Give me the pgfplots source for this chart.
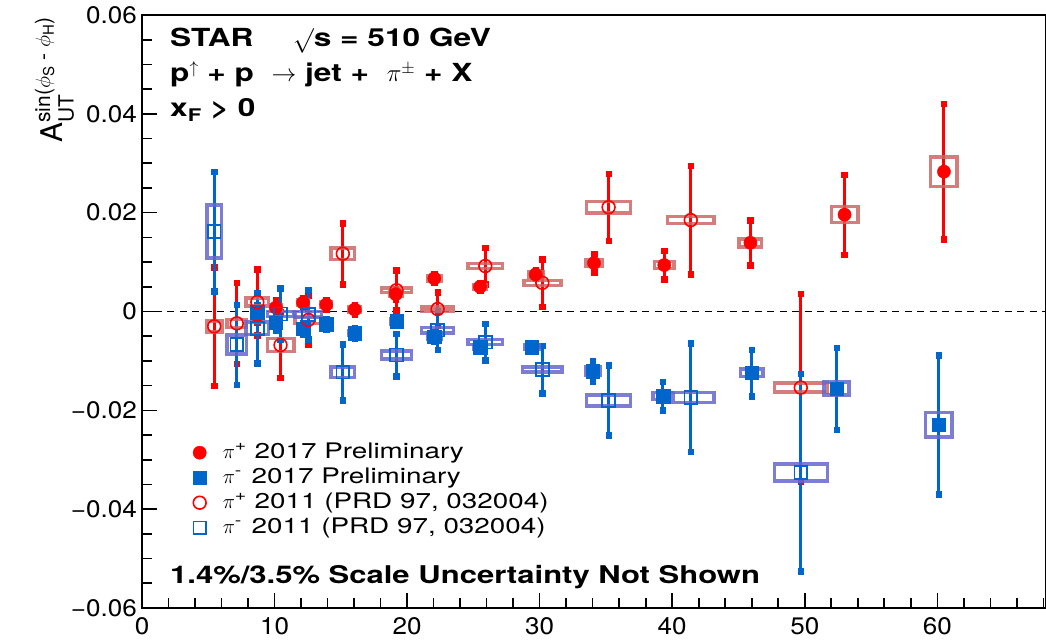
\documentclass[border=0pt]{standalone}
\usepackage{fontspec}
\usepackage{amsmath}
\setmainfont{TeX Gyre Heros}
\newfontfamily\tickfont{TeX Gyre Heros}[FakeStretch=1.09]
\newfontfamily\legfont{TeX Gyre Heros}[FakeStretch=1.3]
\newfontfamily\boldwide{TeX Gyre Heros}[FakeStretch=1.27]
\usepackage{pgfplots}
\pgfplotsset{compat=1.18}
\usepackage{pgfplotstable}

\definecolor{pired}{RGB}{255,0,0}
\definecolor{piblue}{RGB}{0,102,204}
\definecolor{boxred}{RGB}{204,102,102}
\definecolor{boxblue}{RGB}{102,102,204}

% 2017 pi+ : x y stat-error box-halfwidth box-halfheight
\pgfplotstableread{
x y e dx dy
8.7 -0.0008 0.0015 0.4 0.0005
10.1 0.0008 0.0015 0.4 0.0005
12.15 0.0018 0.0010 0.4 0.0005
13.9 0.0014 0.0010 0.4 0.0005
16.05 0.0004 0.0010 0.45 0.0005
19.15 0.0035 0.0010 0.45 0.0005
22.05 0.0067 0.0008 0.5 0.0005
25.5 0.0050 0.0008 0.5 0.0005
29.7 0.0075 0.0009 0.55 0.0005
34.1 0.0098 0.0019 0.6 0.0007
39.4 0.0094 0.0029 0.75 0.0007
45.9 0.0139 0.0046 0.85 0.0008
53.0 0.0196 0.0081 1.0 0.0016
60.5 0.0283 0.0137 1.0 0.0030
}\pplusnew
% 2017 pi-
\pgfplotstableread{
x y e dx dy
8.7 -0.0002 0.0015 0.4 0.0005
10.1 -0.0023 0.0015 0.4 0.0005
12.15 -0.0035 0.0012 0.4 0.0005
13.9 -0.0026 0.0010 0.4 0.0005
16.05 -0.0044 0.0010 0.45 0.0005
19.2 -0.0020 0.0008 0.45 0.0005
22.05 -0.0051 0.0010 0.5 0.0005
25.5 -0.0072 0.0009 0.5 0.0005
29.4 -0.0072 0.0008 0.55 0.0005
34.0 -0.0121 0.0020 0.55 0.0009
39.3 -0.0171 0.0029 0.75 0.0007
46.0 -0.0124 0.0047 0.85 0.0008
52.4 -0.0156 0.0083 0.95 0.0013
60.1 -0.0229 0.0141 1.0 0.0025
}\pminusnew
% 2011 pi+
\pgfplotstableread{
x y e dx dy
5.45 -0.0030 0.0120 0.6 0.0011
7.15 -0.0024 0.0082 0.75 0.0008
8.7 0.0019 0.0067 0.85 0.0008
10.45 -0.0068 0.0066 1.0 0.0013
12.55 -0.0017 0.0050 1.0 0.0007
15.15 0.0117 0.0062 0.9 0.0012
19.2 0.0043 0.0040 1.15 0.0005
22.3 0.0005 0.0034 1.2 0.0004
25.9 0.0092 0.0037 1.3 0.0005
30.2 0.0058 0.0048 1.4 0.0005
35.2 0.0211 0.0068 1.65 0.0012
41.4 0.0185 0.0110 1.75 0.0007
49.7 -0.0154 0.0190 2.0 0.0009
}\pplusold
% 2011 pi-
\pgfplotstableread{
x y e dx dy
5.45 0.0162 0.0121 0.53 0.0054
7.15 -0.0067 0.0081 0.75 0.0019
8.7 -0.0034 0.0071 0.85 0.0013
10.45 -0.0005 0.0052 1.0 0.0005
12.55 -0.0006 0.0050 1.0 0.0006
15.15 -0.0123 0.0057 0.9 0.0011
19.2 -0.0088 0.0043 1.15 0.0008
22.3 -0.0038 0.0039 1.2 0.0006
25.9 -0.0062 0.0037 1.3 0.0005
30.2 -0.0117 0.0048 1.5 0.0005
35.2 -0.0180 0.0071 1.65 0.0011
41.4 -0.0174 0.0110 1.75 0.0010
49.7 -0.0326 0.0200 2.0 0.0017
}\pminusold

\pgfdeclareplotmark{sysbox}{%
  \pgfpathmoveto{\pgfpoint{-\bx bp}{-\by bp}}%
  \pgfpathlineto{\pgfpoint{\bx bp}{-\by bp}}%
  \pgfpathlineto{\pgfpoint{\bx bp}{\by bp}}%
  \pgfpathlineto{\pgfpoint{-\bx bp}{\by bp}}%
  \pgfpathclose
  \pgfusepathqstroke}

\pgfplotsset{
  boxplot/.style={only marks, mark=sysbox, forget plot,
    mark options={draw=#1, line width=3.5bp, draw opacity=0.85},
    visualization depends on={13.255*\thisrow{dx} \as \bx},
    visualization depends on={4941.7*\thisrow{dy} \as \by}},
  errstyle/.style={error bars/.cd, y dir=both, y explicit,
    error bar style={line width=3bp},
    error mark=square*,
    error mark options={line width=0.5bp, mark size=2.8bp}},
}

\begin{document}
\begin{tikzpicture}
\begin{axis}[
  width=904bp, height=593bp, scale only axis,
  xmin=0, xmax=68.2, ymin=-0.06, ymax=0.06,
  axis line style={line width=2bp},
  xtick={0,10,20,30,40,50,60},
  xticklabels={0,10,20,30,40,50,60},
  minor xtick={2,4,6,8,12,14,16,18,22,24,26,28,32,34,36,38,42,44,46,48,52,54,56,58,62,64,66,68},
  ytick={-0.06,-0.04,-0.02,0,0.02,0.04,0.06},
  yticklabels={−0.06,−0.04,−0.02,0,0.02,0.04,0.06},
  minor ytick={-0.055,-0.05,-0.045,-0.035,-0.03,-0.025,-0.015,-0.01,-0.005,0.005,0.01,0.015,0.025,0.03,0.035,0.045,0.05,0.055},
  tick pos=left, tick align=inside,
  major tick length=15bp, minor tick length=10bp,
  every tick/.style={black, line width=1.6bp},
  ticklabel style={font=\tickfont\fontsize{24}{24}\selectfont},
  xticklabel style={inner sep=0pt, yshift=-9bp},
  yticklabel style={inner sep=0pt, xshift=-5bp},
  ylabel={A$_{\text{UT}}^{\text{sin(}\phi_{\text{S}}\text{ - }\phi_{\text{H}}\text{)}}$},
  every axis y label/.style={at={(rel axis cs:0,1)}, xshift=-79bp, yshift=-2bp, rotate=90, anchor=base east, inner sep=0pt, font=\fontsize{30}{30}\selectfont},
  legend style={at={(axis cs:3.6,-0.0256)}, anchor=north west, draw=none, fill=none,
    font=\legfont\fontsize{21.5}{25}\selectfont,
    nodes={text height=16bp, text depth=4.5bp, inner sep=2.25bp}, row sep=0pt, column sep=14bp},
  legend cell align=left,
]
% zero line
\addplot[black, dashed, line width=1.5bp, dash pattern=on 7bp off 5.5bp, forget plot] coordinates {(0,0) (68.2,0)};

% systematic boxes
\addplot[boxplot=boxred] table {\pplusold};
\addplot[boxplot=boxblue] table {\pminusold};
\addplot[boxplot=boxred] table {\pplusnew};
\addplot[boxplot=boxblue] table {\pminusnew};

% points
\addplot[only marks, mark=*, color=pired, mark size=6.6bp, errstyle] table[x=x, y=y, y error=e] {\pplusnew};
\addlegendentry{$\pi$\textsuperscript{+} 2017 Preliminary}
\addplot[only marks, mark=square*, color=piblue, mark size=6.8bp, errstyle] table[x=x, y=y, y error=e] {\pminusnew};
\addlegendentry{$\pi$\textsuperscript{-}\hspace{0.45em}2017 Preliminary}
\addplot[only marks, mark=o, color=pired, mark size=6.4bp, mark options={fill=white, line width=1.6bp}, errstyle] table[x=x, y=y, y error=e] {\pplusold};
\addlegendentry{$\pi$\textsuperscript{+} 2011 (PRD 97, 032004)}
\addplot[only marks, mark=square, color=piblue, mark size=6.4bp, mark options={fill=white, line width=1.6bp}, errstyle] table[x=x, y=y, y error=e] {\pminusold};
\addlegendentry{$\pi$\textsuperscript{-}\hspace{0.45em}2011 (PRD 97, 032004)}

% texts
\node[anchor=base west, inner sep=0pt, font=\boldwide\bfseries\fontsize{25}{25}\selectfont] at ([xshift=28bp,yshift=-32bp]rel axis cs:0,1) {STAR};
\node[anchor=base west, inner sep=0pt, font=\boldwide\bfseries\fontsize{25}{25}\selectfont] at ([xshift=151bp,yshift=-32bp]rel axis cs:0,1) {$\surd$s = 510 GeV};
\node[anchor=base west, inner sep=0pt, font=\boldwide\bfseries\fontsize{25}{25}\selectfont] at ([xshift=28bp,yshift=-67bp]rel axis cs:0,1) {p$^{\uparrow}$ + p \ $\rightarrow$ jet + \ $\pi^{\pm}$ + X};
\node[anchor=base west, inner sep=0pt, font=\boldwide\bfseries\fontsize{25}{25}\selectfont] at ([xshift=28bp,yshift=-102bp]rel axis cs:0,1) {x\textsubscript{F} > 0};
\node[anchor=base west, inner sep=0pt, font=\boldwide\bfseries\fontsize{24.5}{25}\selectfont] at ([xshift=28bp,yshift=25bp]rel axis cs:0,0) {1.4\%/3.5\% Scale Uncertainty Not Shown};

\coordinate (ll) at (rel axis cs:0,0);
\coordinate (ur) at (rel axis cs:1,1);
\end{axis}
\pgfresetboundingbox
\path[use as bounding box] ([xshift=-142bp,yshift=-33bp]ll) rectangle ([yshift=15bp]ur);
\end{tikzpicture}
\end{document}
